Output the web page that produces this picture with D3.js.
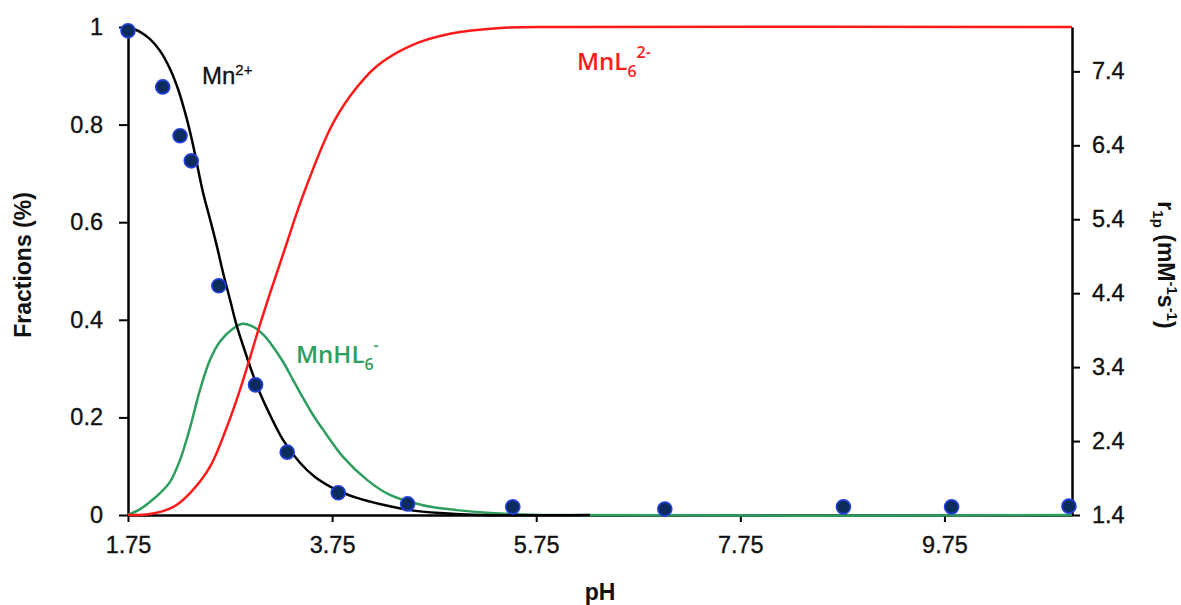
<!DOCTYPE html>
<html>
<head>
<meta charset="utf-8">
<script src="https://cdn.jsdelivr.net/npm/d3@7/dist/d3.min.js"></script>
<style>
  html, body { margin: 0; padding: 0; background: #fff; }
  svg { display: block; }
</style>
</head>
<body>
<svg id="chart" width="1181" height="605"></svg>
<script>
// ---- data ----
const xTicks = [1.75, 3.75, 5.75, 7.75, 9.75];
const yLeftTicks = [0, 0.2, 0.4, 0.6, 0.8, 1];
const yRightTicks = [1.4, 2.4, 3.4, 4.4, 5.4, 6.4, 7.4];

// Mn2+ fraction (black)
const pH_Mn   = [1.75, 1.868, 1.966, 2.064, 2.162, 2.24, 2.309, 2.377, 2.485, 2.554, 2.622, 2.681, 2.75, 2.818, 2.897, 2.975, 3.043, 3.112, 3.269, 3.435, 3.582, 3.798, 3.994, 4.249, 4.513, 4.807, 5.199, 6.277];
const frac_Mn = [1.0, 0.99, 0.975, 0.951, 0.914, 0.873, 0.825, 0.768, 0.661, 0.606, 0.55, 0.497, 0.441, 0.386, 0.335, 0.287, 0.25, 0.218, 0.154, 0.107, 0.078, 0.051, 0.035, 0.021, 0.010, 0.004, 0.0, 0.0];

// MnHL6- fraction (green)
const pH_MnHL   = [1.75, 1.868, 1.966, 2.064, 2.162, 2.26, 2.358, 2.456, 2.554, 2.65, 2.78, 2.87, 2.975, 3.073, 3.171, 3.269, 3.367, 3.465, 3.563, 3.661, 3.857, 4.092, 4.317, 4.64, 4.97, 5.30, 5.79, 11.0];
const frac_MnHL = [0.0, 0.012, 0.027, 0.045, 0.068, 0.113, 0.179, 0.257, 0.318, 0.355, 0.382, 0.392, 0.386, 0.370, 0.345, 0.314, 0.277, 0.240, 0.205, 0.175, 0.119, 0.072, 0.041, 0.02, 0.01, 0.004, 0.0, 0.0];

// MnL6 2- fraction (red)
const pH_MnL   = [1.75, 1.966, 2.19, 2.358, 2.554, 2.72, 2.848, 2.945, 3.043, 3.141, 3.269, 3.465, 3.73, 3.925, 4.19, 4.513, 4.905, 5.395, 6.08, 11.0];
const frac_MnL = [0.0, 0.002, 0.016, 0.045, 0.099, 0.181, 0.257, 0.322, 0.39, 0.454, 0.534, 0.655, 0.791, 0.858, 0.92, 0.961, 0.986, 0.998, 1.0, 1.0];

// relaxivity r1p (dots, right axis)
const pH_r1p = [1.75, 2.09, 2.26, 2.37, 2.64, 3.00, 3.31, 3.81, 4.49, 5.52, 7.01, 8.76, 9.82, 10.97];
const r1p    = [7.95, 7.19, 6.53, 6.19, 4.50, 3.16, 2.25, 1.70, 1.55, 1.51, 1.48, 1.51, 1.51, 1.52];

// ---- layout ----
const svg = d3.select("#chart");
svg.append("rect").attr("width", 1181).attr("height", 605).attr("fill", "#fff");

const X0 = 128, X1 = 1072, Y0 = 515, Y1 = 27;
const x = d3.scaleLinear().domain([1.75, 11]).range([X0, X1]);
const yL = d3.scaleLinear().domain([0, 1]).range([Y0, Y1]);
const yR = d3.scaleLinear().domain([1.4, 8.0]).range([Y0, Y1]);

const tickFont = "'Liberation Sans', Arial, sans-serif";

function styleAxis(g) {
  g.select(".domain").attr("stroke", "#000").attr("stroke-width", 2.5);
  g.selectAll(".tick line").attr("stroke", "#000").attr("stroke-width", 2);
  g.selectAll(".tick text").attr("fill", "#111")
    .attr("stroke", "#111").attr("stroke-width", 0.35)
    .style("font-family", tickFont).style("font-size", "23.5px");
}

// bottom axis
const gx = svg.append("g").attr("transform", `translate(0,${Y0})`)
  .call(d3.axisBottom(x).tickValues(xTicks).tickFormat(d3.format(".2f")).tickSize(7).tickSizeOuter(0).tickPadding(14));
styleAxis(gx);

// left axis
const gyl = svg.append("g").attr("transform", `translate(${X0},0)`)
  .call(d3.axisLeft(yL).tickValues(yLeftTicks).tickFormat(d => (d === 0 || d === 1) ? String(d) : d3.format(".1f")(d)).tickSize(9).tickSizeOuter(0).tickPadding(16));
styleAxis(gyl);

// right axis
const gyr = svg.append("g").attr("transform", `translate(${X1},0)`)
  .call(d3.axisRight(yR).tickValues(yRightTicks).tickFormat(d3.format(".1f")).tickSize(8).tickSizeOuter(0).tickPadding(12));
styleAxis(gyr);

// ---- curves ----
const line = d3.line().x(d => x(d[0])).y(d => yL(d[1])).curve(d3.curveCatmullRom.alpha(0.5));
const zip = (a, b) => a.map((v, i) => [v, b[i]]);

svg.append("path").datum(zip(pH_MnHL, frac_MnHL)).attr("d", line)
  .attr("fill", "none").attr("stroke", "#2e9e5e").attr("stroke-width", 2.5);
svg.append("path").datum(zip(pH_Mn, frac_Mn)).attr("d", line)
  .attr("fill", "none").attr("stroke", "#000").attr("stroke-width", 2.5);
svg.append("path").datum(zip(pH_MnL, frac_MnL)).attr("d", line)
  .attr("fill", "none").attr("stroke", "#ff1a1a").attr("stroke-width", 2.5);

// ---- dots ----
svg.append("g").selectAll("circle").data(zip(pH_r1p, r1p)).join("circle")
  .attr("cx", d => x(d[0])).attr("cy", d => yR(d[1])).attr("r", 7)
  .attr("fill", "#0c2c5e").attr("stroke", "#2340e0").attr("stroke-width", 1.6);

// ---- titles ----
const titleFont = "'Liberation Sans', Arial, sans-serif";
svg.append("text").attr("x", 600).attr("y", 600).attr("text-anchor", "middle")
  .style("font-family", titleFont).style("font-size", "23px").style("font-weight", "bold").attr("fill", "#111").text("pH");

svg.append("text").attr("transform", "translate(31,265) rotate(-90)").attr("text-anchor", "middle")
  .style("font-family", titleFont).style("font-size", "23px").style("font-weight", "bold").attr("fill", "#111").text("Fractions (%)");

const rt = svg.append("text").attr("transform", "translate(1158,265) rotate(90)").attr("text-anchor", "middle")
  .style("font-family", titleFont).style("font-size", "23px").style("font-weight", "bold").attr("fill", "#111");
rt.append("tspan").text("r");
rt.append("tspan").attr("dy", 5).style("font-size", "15px").text("1p");
rt.append("tspan").attr("dy", -5).text(" (mM");
rt.append("tspan").attr("dy", -9).style("font-size", "15px").text("-1");
rt.append("tspan").attr("dy", 9).text("s");
rt.append("tspan").attr("dy", -9).style("font-size", "15px").text("-1");
rt.append("tspan").attr("dy", 9).text(")");

// ---- series labels ----
const mn = svg.append("text").attr("x", 202).attr("y", 84)
  .attr("stroke", "#111").attr("stroke-width", 0.3)
  .style("font-family", titleFont).style("font-size", "24px").attr("fill", "#111");
mn.append("tspan").text("Mn");
mn.append("tspan").attr("dy", -9).style("font-size", "15px").text("2+");

const lblFont = "'Open Sans', 'Noto Sans', sans-serif";
const ml = svg.append("text").attr("x", 577).attr("y", 70)
  .style("font-family", lblFont).style("font-size", "24px").style("font-weight", "600").attr("fill", "#ff1a1a");
ml.append("tspan").text("MnL");
ml.append("tspan").attr("dy", 7).style("font-size", "16px").text("6");
ml.append("tspan").attr("dy", -19).style("font-size", "16px").text("2-");

const mh = svg.append("text").attr("x", 296).attr("y", 363)
  .style("font-family", lblFont).style("font-size", "24px").style("font-weight", "600").attr("fill", "#2e9e5e");
mh.append("tspan").text("MnHL");
mh.append("tspan").attr("dy", 7).style("font-size", "16px").text("6");
mh.append("tspan").attr("dy", -19).style("font-size", "16px").text("-");
</script>
</body>
</html>
